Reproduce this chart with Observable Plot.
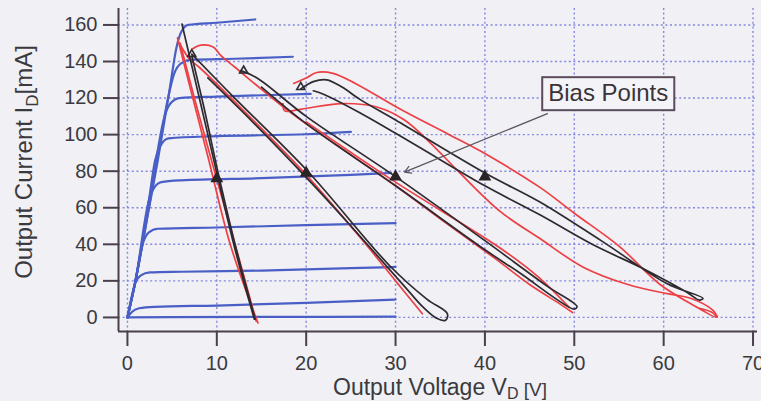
<!DOCTYPE html>
<html>
<head>
<meta charset="utf-8">
<script src="https://cdn.jsdelivr.net/npm/d3@7"></script>
<script src="https://cdn.jsdelivr.net/npm/@observablehq/plot@0.6"></script>
<style>
  html, body { margin: 0; padding: 0; background: #f0f0f5; }
  #chart { width: 761px; height: 401px; overflow: hidden; }
  svg { display: block; }
</style>
</head>
<body>
<div id="chart"></div>
<script>
// ---- axis ticks ----
const voltageTicks = [0, 10, 20, 30, 40, 50, 60, 70];
const currentTicks = [0, 20, 40, 60, 80, 100, 120, 140, 160];
const xDomain = [-1, 70.5];
const yDomain = [-7.7, 169];

// ---- DC I-V curves (blue): [V, mA] ----
const blue0 = [[0,0],[5,0.2],[15,0.3],[30,0.4]];
const blue1 = [[0,0],[0.5,3],[1.3,5],[3,5.8],[10,6.5],[20,8],[30,9.8]];
const blue2 = [[0,0],[0.9,19],[1.5,23],[2.5,24.6],[6,25],[15,25.6],[25,27],[30,27.6]];
const blue3 = [[0,0],[0.9,20],[1.7,40],[2.4,46.5],[3.4,48.5],[10,49.2],[20,50.5],[30,51.6]];
const blue4 = [[0,0],[0.9,20],[2.4,64],[3.0,71],[3.8,74],[6,75],[15,76.2],[25,78],[29.5,79]];
const blue5 = [[0,0],[0.9,20],[2.4,64],[3.1,86],[3.7,94],[4.6,98],[10,99.2],[20,100.2],[25,101.5]];
const blue6 = [[0,0],[0.9,20],[2.4,63],[3.2,86],[4.1,109],[4.8,117],[5.8,120],[10,120.8],[20.5,122.3]];
const blue7 = [[0,0],[0.9,20],[2.5,63],[3.3,86],[4.5,119],[5.2,133],[6.0,139],[7.2,141],[12,141.5],[18.5,142.6]];
const blue8 = [[0,0],[0.9,20],[2.5,62],[3.4,86],[4.7,124],[5.5,148],[6.0,156],[6.8,160],[10,161.2],[14.3,163]];

// ---- dynamic load lines, red ----
const redA1 = [[5.6,153],[7,126],[9,88],[11.5,40],[14.6,-3]];
const redA2 = [[5.9,150],[7.6,118],[10.2,72],[12.5,32],[14.4,-2]];
const redB1 = [[5.8,150],[7,141],[8,137],[12,118],[20,78],[26,44],[30,20],[33,2]];
const redC1 = [[7.3,147],[8.2,149],[9.6,148],[10.4,143.5],[12,137],[18,113],[25,89],[30,72],[35,54],[41.2,32],[45,18],[48.5,7],[49.8,2.7]];
const redC2 = [[20,107],[30,74],[41.7,38],[46,22],[49.4,5.6]];
const redD1 = [[17.4,117],[17.6,113],[19.5,114],[24,117],[28,115],[31,108],[34,95],[37,80],[41.7,58],[46.2,43],[51,27.5],[56,18],[60.4,13],[63,10.5],[65.5,4],[66,0.5]];
const redD2 = [[18.6,128],[20,131],[21.2,134],[23,133.5],[25.5,128],[30.5,114],[36,100],[39.5,91],[46.2,71],[50,57],[55,39],[59.6,18],[63,7.6],[65.9,0],[65.5,2.5],[64,5]];

// ---- dynamic load lines, black ----
const blackA1 = [[6.1,160.5],[8,121],[10,79],[12,38],[14.2,-1]];
const blackA2 = [[7.2,143],[8.6,114],[10.2,78],[12.3,35],[14.3,-1]];
const blackB = [[7.2,144],[12,120],[20.1,80.4],[29.4,28],[33.5,10],[35.8,2],[35.6,-1.5],[34.6,-0.5],[33,6],[31,17],[25,50],[20.5,74],[14,107],[9,131]];
const blackC = [[12.7,135],[14.5,131],[20,110],[30,77],[40,42],[47,17],[50.3,6],[50,4.5],[48,10],[44,24],[40,37],[30,72],[20,106],[15,126]];
const blackD = [[19.4,125],[20.8,129],[22.3,130],[24,126],[26.1,119],[30,108],[40,79],[46.2,63],[53,42],[60.4,18.4],[64.4,10.4],[64,9.5],[62.6,13.8],[58,26],[52,40],[46.2,56],[40,72],[32,95],[26,112],[22,122],[20.8,124]];

// ---- markers ----
const biasV = [10, 20, 30, 40];
const biasI = [76, 79, 77, 77];
const startV = [7.2, 13, 19.4];
const startI = [144, 135, 126];

// ---- annotation ----
const noteLabel = ["Bias Points"];
const noteV = [53.8];
const noteI = [122.5];
const arrowFrom = [47, 111.5];
const arrowTo = [31, 79.5];

// ---- build tables ----
function toRows(curves, group) {
  return curves.flatMap((c, k) => c.map(([V, I]) => ({V, I, id: group + k})));
}
const blueRows = toRows([blue0, blue1, blue2, blue3, blue4, blue5, blue6, blue7, blue8], "b");
const redRows = toRows([redA1, redA2, redB1, redC1, redC2, redD1, redD2], "r");
const blackRows = toRows([blackA1, blackA2, blackB, blackC, blackD], "k");
const bias = biasV.map((V, i) => ({V, I: biasI[i]}));
const starts = startV.map((V, i) => ({V, I: startI[i]}));
const note = noteLabel.map((t, i) => ({t, V: noteV[i], I: noteI[i]}));
const arrow = [{x1: arrowFrom[0], y1: arrowFrom[1], x2: arrowTo[0], y2: arrowTo[1]}];

const FONT = "'Liberation Sans', Arial, Helvetica, sans-serif";
const gridStyle = {stroke: "#7f82de", strokeOpacity: 0.95, strokeWidth: 1.4, strokeDasharray: "2,2.6"};
const axisColor = "#4a404c";

const svg = Plot.plot({
  width: 761,
  height: 401,
  marginLeft: 118,
  marginRight: 4,
  marginTop: 8,
  marginBottom: 70,
  x: {domain: xDomain},
  y: {domain: yDomain},
  style: {background: "transparent", fontFamily: FONT, color: "#3a3a3e", overflow: "visible"},
  marks: [
    Plot.gridX(voltageTicks, gridStyle),
    Plot.gridY(currentTicks, gridStyle),
    Plot.line(blueRows, {x: "V", y: "I", z: "id", stroke: "#4a5fc6", strokeWidth: 2.2, curve: "monotone-x"}),
    Plot.line(redRows, {x: "V", y: "I", z: "id", stroke: "#ec4044", strokeWidth: 1.7, curve: "catmull-rom"}),
    Plot.line(blackRows, {x: "V", y: "I", z: "id", stroke: "#2e2a30", strokeWidth: 1.7, curve: "catmull-rom"}),
    Plot.dot(starts, {x: "V", y: "I", symbol: "triangle", r: 3.0, stroke: "#2e2a30", strokeWidth: 1.6, fill: "none"}),
    Plot.dot(bias, {x: "V", y: "I", symbol: "triangle", r: 3.8, fill: "#2a2428", stroke: "#2a2428"}),
    Plot.arrow(arrow, {x1: "x1", y1: "y1", x2: "x2", y2: "y2", stroke: "#5a5560", strokeWidth: 1.2, headLength: 9}),
    Plot.text(note, {x: "V", y: "I", text: "t", fontSize: 24, fill: "#3a3438"}),
    Plot.ruleX([xDomain[0]], {stroke: axisColor, strokeWidth: 2}),
    Plot.ruleY([yDomain[0]], {stroke: axisColor, strokeWidth: 2}),
    Plot.axisX(voltageTicks, {tickSize: 15, tickPadding: 9, fontSize: 20, label: null, stroke: axisColor, strokeWidth: 2, fill: "#3a3a3e"}),
    Plot.axisY(currentTicks, {tickSize: 15, tickPadding: 6, fontSize: 20, label: null, stroke: axisColor, strokeWidth: 2, fill: "#3a3a3e"})
  ]
});

document.getElementById("chart").append(svg);

// box around the annotation text (same transform as the text)
const s = d3.select(svg);
s.selectAll("text").filter(function() { return this.textContent === noteLabel[0]; }).each(function() {
  const b = this.getBBox();
  const pad = 6;
  const r = d3.select(this.parentNode).insert("rect", ":first-child")
    .attr("x", b.x - pad).attr("y", b.y - 2)
    .attr("width", b.width + 2 * pad).attr("height", b.height + 6)
    .attr("fill", "#f4f4f8").attr("stroke", "#5a4c5c").attr("stroke-width", 2);
  const t = this.getAttribute("transform");
  if (t) r.attr("transform", t);
});

// axis titles with subscripts
const xl = s.append("text")
  .attr("x", 440).attr("y", 395)
  .attr("text-anchor", "middle")
  .attr("font-family", FONT).attr("font-size", 23).attr("fill", "#3a3a3e");
xl.append("tspan").text("Output Voltage V");
xl.append("tspan").attr("font-size", 16).attr("dy", 4).text("D");
xl.append("tspan").attr("font-size", 19).attr("dy", -3).text(" [V]");

const yl = s.append("text")
  .attr("transform", "translate(32,162) rotate(-90)")
  .attr("text-anchor", "middle")
  .attr("font-family", FONT).attr("font-size", 24).attr("fill", "#3a3a3e");
yl.append("tspan").text("Output Current I");
yl.append("tspan").attr("font-size", 17).attr("dy", 6).text("D");
yl.append("tspan").attr("dy", -6).text("[mA]");
</script>
</body>
</html>
